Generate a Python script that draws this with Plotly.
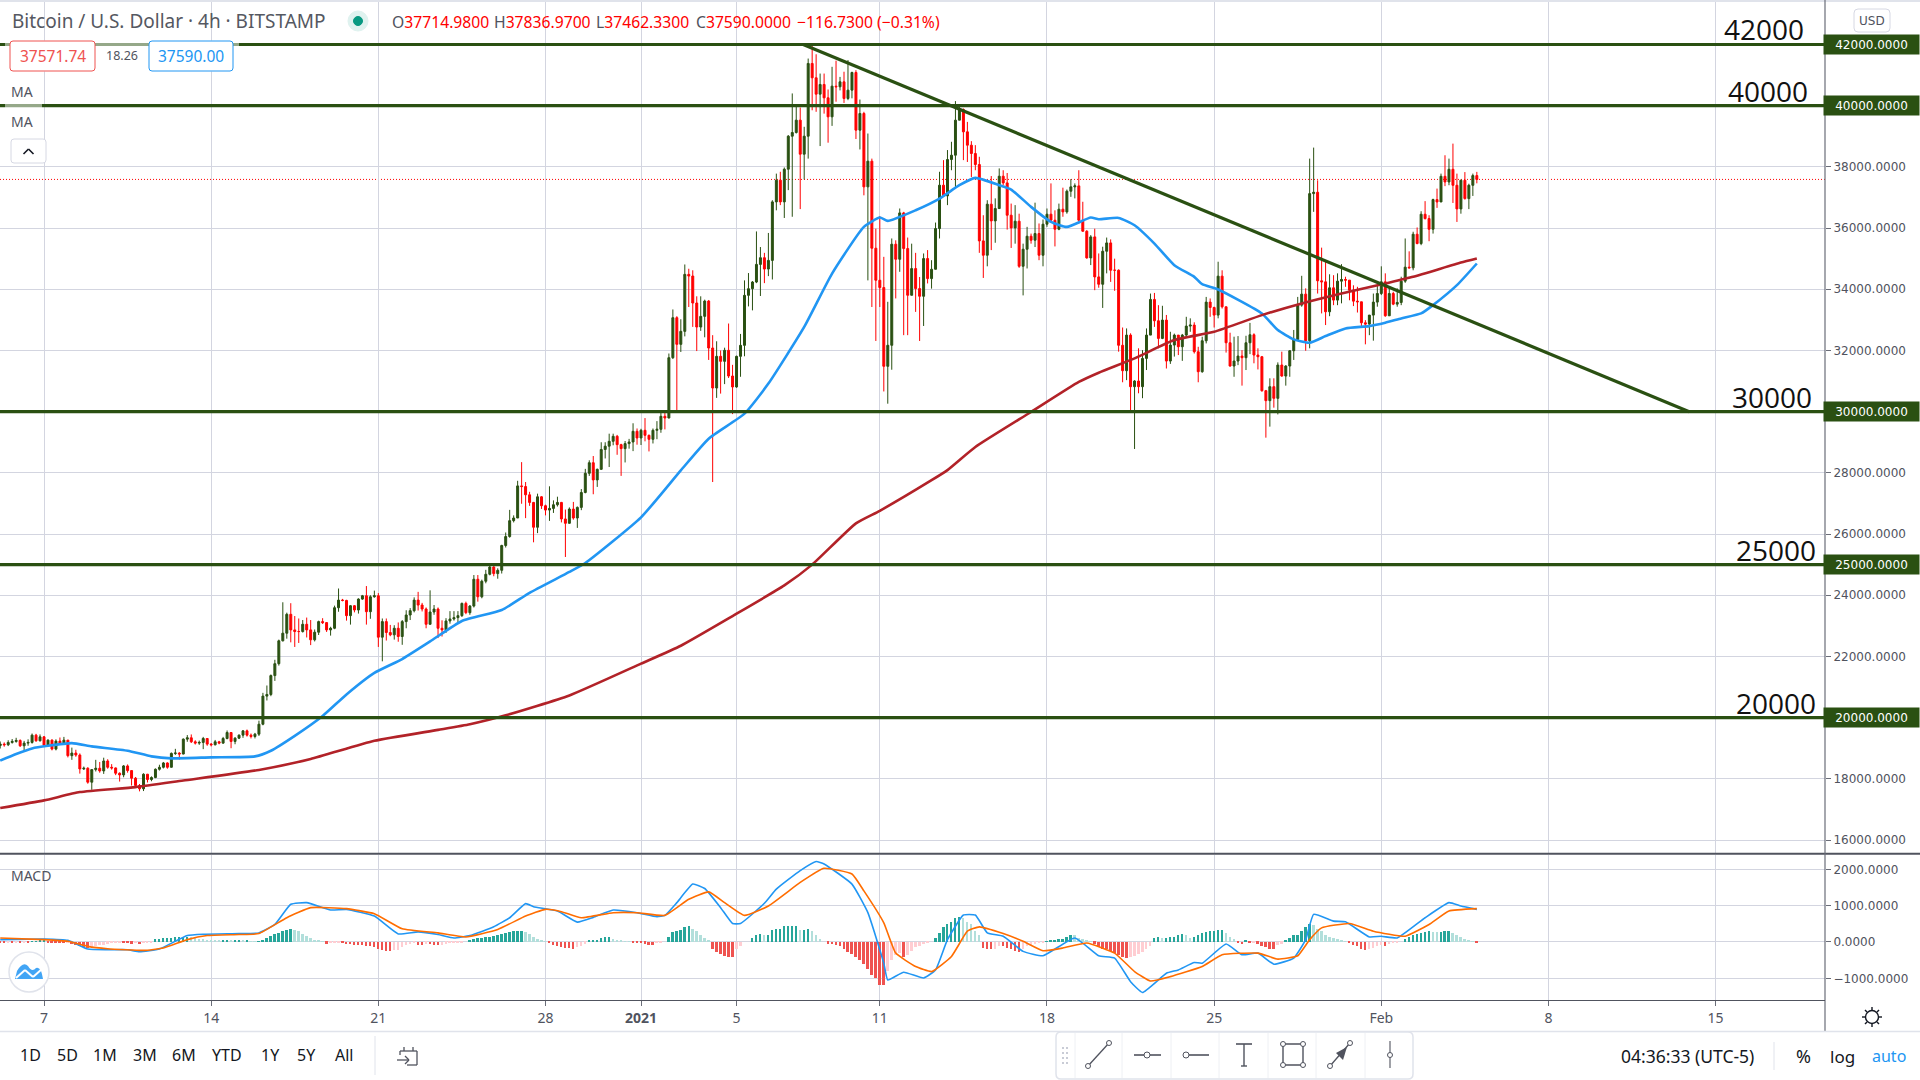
import plotly.graph_objects as go
from datetime import datetime, timedelta

W, H = 1920, 1080
START = datetime(2020, 12, 7)

first_open = 19090
closes = [
19134,19113,19189,19221,19253,19080,19167,19189,19427,19243,19372,
19102,19264,18972,19232,19167,19264,18756,18842,18777,18323,18345,17890,18301,18345,18258,18583,18377,18355,18182,18128,
18420,18269,18020,17782,17674,18150,17977,18042,18312,18377,18518,18377,18831,18842,18810,19297,19340,19210,19167,19189,
19318,19134,19113,19210,19167,19318,19513,19221,19329,19427,19567,19427,19383,19459,19784,20703,20757,21374,21763,22510,
22759,23376,22867,22813,22813,23051,22867,22543,22792,23138,23105,22867,22921,23592,23841,23830,23333,23657,23517,23874,
23982,23462,23949,23982,22629,23138,22781,22705,22921,22651,23138,23354,23495,23841,23679,23549,23051,23452,23549,22921,
22867,23159,23224,23268,23333,23733,23430,23646,24523,23949,24458,24685,24923,24707,24815,25626,25919,26438,26524,27574,
27552,27282,27033,26222,27217,26925,26784,26838,26957,27033,26492,26351,26816,26524,26871,27358,27986,28331,27769,28115,
28764,28872,29031,29194,28922,28791,28955,29009,29358,29140,29390,29227,29096,29390,29423,29848,29793,31764,33071,32200,
32624,34487,34432,33550,32766,33114,33615,32080,30773,31808,31644,32004,31165,30806,31808,32167,33801,34018,34236,34813,
35031,34661,34944,36856,37565,36856,37924,39003,39123,39527,38415,39003,41380,40911,40377,40693,40257,39636,40638,40617,
40780,40235,40508,41085,39200,39745,37347,38186,35341,34295,34055,31482,32169,35472,34981,36496,35330,33804,34676,34022,
33771,35003,34349,34654,35984,37401,37052,38240,38382,39527,39875,39145,38709,38437,38077,35581,35112,36780,36235,36638,
37695,37477,36420,36006,36224,34752,35308,35733,35603,35821,35112,36126,36453,36257,35962,36616,36529,37205,37347,37379,
36257,35897,35025,35712,34404,34164,35243,35515,34622,34622,32169,31338,32502,30816,31001,30816,31741,32502,33667,32970,
32394,32992,31654,32176,32502,32122,32502,32796,32829,31958,31306,32317,33580,33405,33155,34428,33427,32252,31491,31654,
31817,31763,32252,32513,31850,31795,30685,30359,30816,30435,31523,31164,31491,31991,32361,33482,33841,32317,37126,37170,
34276,34243,33264,34047,33645,34265,34319,34298,33971,33612,33590,32905,32861,33155,33580,33862,34243,33133,33862,33514,
33569,34265,34722,34700,35799,35494,36452,36310,35962,36931,36854,37692,37507,37921,37398,36626,37562,36963,37398,37715,37590]
highs = [
19220,19190,19260,19300,19340,19290,19240,19290,19480,19470,19450,
19400,19290,19290,19290,19350,19370,19270,19020,18950,18830,18400,18380,18310,18620,18550,18690,18640,18480,18370,18210,
18450,18470,18280,18060,17830,18180,18160,18080,18340,18460,18550,18540,18860,18980,18870,19320,19430,19450,19260,19250,
19370,19330,19170,19270,19240,19370,19580,19530,19360,19450,19590,19610,19480,19500,19900,20810,21050,21410,21890,22550,
23770,23430,23740,23320,23240,23190,23270,23190,22880,23170,23250,23120,22970,23660,24220,23880,23850,23680,23680,23900,
24010,24300,24000,24150,24070,23240,23240,23030,23020,23110,23190,23510,23580,23930,24110,23750,23600,24160,23680,23600,
23180,23250,23480,23480,23480,23760,23790,23680,24660,24660,24510,24830,24960,24950,24880,25650,26050,26790,26610,27740,
28350,27700,27380,27050,27320,27240,26960,27560,27100,27220,27050,26800,26870,27050,26900,27470,28130,28410,28550,28140,
29000,29000,29280,29280,29240,28950,29040,29110,29620,29450,29440,29790,29250,29450,29690,30040,30050,31900,33340,33120,
33020,34810,34670,34620,33770,33770,33660,33650,32500,32300,32000,32090,32880,31530,31830,32540,34290,34530,34270,35890,
35380,35190,35840,36910,37780,37840,37980,39040,40400,39960,39940,39310,41540,41960,41680,41050,41050,40530,41270,41470,
40940,41110,41490,41110,41160,40200,39800,39090,38270,35980,36390,35060,33590,35660,35600,36640,36530,35690,35490,35190,
34400,35170,35280,34950,36180,37840,38220,38550,38820,40150,39980,39910,39470,38840,38710,38330,36420,36910,37700,36970,
37950,37890,37800,36800,36750,36470,35490,36040,35820,36830,36150,36280,36640,37460,36580,36800,37320,37260,37600,37460,
37890,36860,35930,35770,35980,35170,35390,35690,35630,35000,34650,32750,32720,32560,31030,32070,32010,32720,33860,33880,
33480,33460,33160,32610,32550,32450,32540,33100,33050,32920,32120,32450,33750,33700,33430,34900,34620,33430,32580,32450,
32470,32010,32480,32900,32560,32070,31820,30710,31090,31090,31610,31960,31520,32010,32670,33750,34440,34030,38270,38630,
37560,35360,34900,34490,34460,34520,34820,34410,34300,34130,34080,33590,32990,33160,33860,34130,34750,34520,34080,33920,
34030,34410,35660,35240,35880,36020,36550,36880,36420,36960,37290,37780,38380,38270,38760,37780,37580,37830,37450,37780,37837]
lows = [
18990,19050,19070,19150,19180,19040,18890,19080,19150,19210,19220,
19060,19080,18930,18930,19130,19150,18700,18620,18720,18170,18290,17840,17640,18240,18200,18160,18330,18300,18120,17910,
18050,18200,17780,17700,17590,17600,17880,17920,18020,18270,18340,18330,18370,18780,18630,18800,19210,19170,19120,19110,
18970,19080,19060,19090,19130,19140,19290,19000,19130,19300,19340,19380,19320,19320,19400,19750,20560,20700,21200,21700,
22490,22580,22460,22310,22440,22780,22620,22370,22490,22700,23060,22800,22680,22890,23460,23800,23170,23040,23440,23400,
23850,23040,23230,23920,22310,21840,22520,22660,22550,22480,22380,22920,23190,23440,23500,23470,22920,23060,23360,22600,
22650,22770,23070,23170,23110,23290,23380,23360,23600,23790,23900,24390,24650,24620,24540,24710,25560,25880,26380,26780,
26990,26520,26920,25730,26030,26820,26610,26430,26690,26900,26380,25250,26340,26470,26200,26780,27330,27900,27300,27540,
28100,28470,28190,28900,28590,27900,28340,28790,28710,28920,28910,29030,28700,28960,29100,29310,29420,29780,31720,30040,
31950,32460,33420,32770,31980,32640,32430,31690,27700,30450,30590,30900,31100,29920,30780,31140,31810,33440,33310,34200,
33780,34200,34430,34320,36580,36750,36330,37240,36370,39090,36620,37590,38270,39850,39800,38680,39740,38790,39340,40130,
40500,40090,40180,40240,38910,38570,37070,34290,33420,32310,33420,30660,30260,31370,33700,34570,32500,32500,33800,33260,
32310,32800,34190,34020,34650,35660,37020,36750,37890,37290,39530,38220,38160,37670,37890,35190,34370,34750,35280,35520,
36690,37400,35950,35350,35490,34700,33800,34680,35490,35380,34950,34750,36040,36200,35400,35930,36370,36470,37020,36970,
36150,35880,35000,34790,33970,34050,33390,34520,34240,33950,31960,30960,31030,30050,28780,30600,30440,31360,32500,32770,
32070,32370,31410,31560,31800,31850,31660,32450,32610,31900,30960,31270,32230,33100,32750,33050,33370,31930,31470,31140,
31520,30850,31360,31880,31580,31380,30650,29150,29510,30130,29910,31140,30850,31140,31690,32610,33430,31990,32070,36530,
33860,33210,32830,33120,33480,33480,33540,34080,33640,33450,33240,32770,32200,32500,32320,33430,33810,33100,33130,33480,
33430,33480,34210,34680,34620,35470,35440,36280,35570,35820,36660,36850,37370,37400,36820,36200,36470,36930,36620,37050,37462]

ma_fast_k = [-11,-7,-3,1,7,12,21,27,32,42,53,57,63,70,76,83,90,97,105,115,122,132,136,150,160,167,176,182,191,198,206,210,212,219,225,230,234,240,243,248,253,257,263,265,270,274,279,284,289,291,295,306,310,314,318,322,327,333,337,341,346,349,355,360]
ma_fast_v = [18593,18810,18994,19080,19167,19059,18918,18734,18669,18702,18734,18918,19405,20054,20757,21461,21915,22489,23159,23517,24079,24761,25053,26546,28082,29117,29935,30916,32769,34513,36039,36344,36235,36584,36965,37401,37641,37401,37259,36693,36202,36039,36344,36289,36332,36093,35494,34787,34406,34167,33993,33210,32666,32361,32252,32470,32720,32796,32905,33046,33210,33482,34134,34842]
ma_slow_k = [-11,0,9,23,35,54,67,83,99,107,116,132,150,160,173,186,193,204,210,223,227,234,248,260,265,274,284,294,306,316,326,337,344,356,360]
ma_slow_v = [17046,17295,17566,17728,17944,18290,18648,19243,19600,19784,20076,20725,21764,22350,23320,24320,25000,26350,26760,27760,28090,28845,29989,30970,31273,31741,32339,32611,33155,33536,33862,34189,34406,34874,35005]

macd_k = [-11,0,6,11,16,21,24,29,36,40,49,54,58,62,66,72,76,83,89,94,99,103,107,113,117,121,123,129,134,138,143,149,154,156,159,163,166,170,173,175,181,184,190,194,196,203,207,211,212,216,221,224,227,231,234,237,241,246,251,259,265,269,273,276,282,285,289,291,297,301,305,309,314,317,319,324,327,333,336,340,347,353,356,360]
macd_v = [65,83,46,-194,-213,-213,-269,-194,176,213,232,250,482,1037,1083,880,898,713,222,278,204,111,176,417,667,1056,972,852,546,676,880,806,695,732,1083,1593,1472,945,509,509,1065,1454,1963,2213,2148,1593,806,-583,-1046,-833,-991,-769,65,741,741,250,157,-259,-380,111,-380,-444,-1093,-1389,-861,-769,-565,-583,-56,-352,-306,-611,-444,65,759,574,556,139,157,111,667,1083,991,898]
signal_k = [-11,0,6,11,16,25,30,36,41,49,54,61,67,76,83,90,99,106,114,121,126,130,135,143,149,156,162,167,171,176,182,190,196,203,206,211,214,219,223,228,232,235,241,246,251,256,262,269,274,278,283,291,296,305,310,315,318,321,328,334,342,348,353,360]
signal_v = [111,65,19,-120,-185,-232,-167,65,176,204,232,667,945,917,778,361,250,139,343,713,898,833,667,806,806,732,1176,1380,1083,732,991,1639,2028,1870,1407,528,-306,-676,-815,-398,296,417,232,19,-241,-167,-28,-306,-815,-1074,-954,-676,-352,-306,-472,-380,65,389,509,296,157,482,852,917]

hist_runs = [
(-11,[-40,-40,-30,-30,-20,-20,-10,-10,10,20,30,30]),(1,[-10,-20,-20,-30,-30]),(6,[-20,-60,-90,-110,-130,-160]),
(12,[-130,-110,-90,-70,-50,-40,-30]),(19,[-20,-30,-40,-50,-20,-60,-40,-20,-10]),(28,[70,80,100,110,120,130,130,140,150]),
(37,[130,110,90,70,60,50,40,30]),(45,[40,50,40,40,50,30,30,20,10,20]),(55,[60,120,170,220,260,300,340,370]),
(63,[340,290,230,170,110,60,30,20]),(71,[-50,-30,-10,-5,-40,-60,-60,-70,-80,-90,-100,-110,-130]),(84,[-200,-230,-240,-240,-230,-210]),
(90,[-130,-90,-60,-40]),(94,[-70,-70,-50,-60,-90]),(99,[-90,-70,-50,-40,-30,-20,-10]),
(107,[60,80,100,120,140,150,170,190,210,240,270,290,300,310]),(121,[270,220,150,80,50,20]),(127,[-40,-70,-100,-130,-160,-170]),
(133,[-180,-150,-100,-50]),(137,[30,50,60,100,130,130]),(143,[90,60,30,20,5]),(148,[-20,-30,-30,-50,-70,-70,-40,-30]),
(157,[130,280,300,320,410,450]),(163,[370,300,180,120,50]),(168,[-200,-280,-320,-380,-400,-420]),(174,[-200,-120]),
(178,[100,200,230,200,200,330,370,370,430,450,450]),(189,[450,340,340,350,300,200,80]),
(197,[-50,-60,-80,-120,-200,-280,-340,-400,-500,-600,-750,-900,-1000,-1180]),(211,[-1180,-800,-500,-350,-300,-400,-350,-250,-150,-100,-60,-40]),
(224,[100,250,400,500,550,650,700,650,550]),(233,[500,300,200]),(236,[-170,-190,-190,-180,-100,-120,-160,-200,-250,-280,-200,-120,-80,-50]),
(250,[-20,-10,5]),(253,[40,40,70,80,130,190,180,100]),(261,[70,30,10]),(264,[-50,-150,-200,-200,-250,-300,-350,-400]),
(272,[-450,-420,-380,-330,-280,-200,-100]),(279,[100,130,100,100,130,150,180,220,200]),(288,[120,150,200,250,270,300,300,330]),
(296,[330,250,150,80]),(300,[-30,-60,30,-30,-20,-50]),(306,[-100,-130,-180,-190,-80,-50]),(312,[30,100,180,200,300,400,500]),
(319,[460,350,300,200,150,100,70,40]),(327,[20,-30]),(329,[-80,-120,-180,-220,-200,-160]),(335,[-100,-80,-100,-60,-40,-10]),
(342,[80,150,200,220,250,280,290,280,270,280,290,300]),(354,[260,200,130,70,30,10]),(360,[-15]),
]

levels = [42000, 40000, 30000, 25000, 20000]
level_text_x = [1764, 1768, 1772, 1776, 1776]
price_ticks = list(range(16000, 42001, 2000))
macd_ticks = [2000, 1000, 0, -1000]
trend_x = ["2021-01-07 19:00", "2021-02-13 21:30"]
trend_y = [42000, 30000]
date_ticks = ["2020-12-07","2020-12-14","2020-12-21","2020-12-28","2021-01-01","2021-01-05","2021-01-11","2021-01-18","2021-01-25","2021-02-01","2021-02-08","2021-02-15"]
date_labels = ["7","14","21","28","<b>2021</b>","5","11","18","25","Feb","8","15"]
range_labels = ["1D","5D","1M","3M","6M","YTD","1Y","5Y","All"]
range_label_x = [30,67,105,145,184,227,270,306,344]

GREEN = "#2a5012"
TEXT = "#50535e"
GRID = "#d3d5e0"
SANS = "Noto Sans"

def t(k):
    return START + timedelta(hours=4 * k)

n = min(len(closes), len(highs), len(lows))
times = [t(i - 11) for i in range(n)]
opens = [first_open] + closes[:n - 1]

hist = {}
for s, vals in hist_runs:
    for i, v in enumerate(vals):
        hist[s + i] = v
hk = sorted(hist)
hv = [hist[k] for k in hk]
hcol = []
for i, v in enumerate(hv):
    prev = hv[i - 1] if i else v
    if v >= 0:
        hcol.append("#26a69a" if v >= prev else "#b2dfdb")
    else:
        hcol.append("#ef5350" if v <= prev else "#ffcdd2")

fig = go.Figure()
fig.add_trace(go.Candlestick(x=times, open=opens, high=highs[:n], low=lows[:n], close=closes[:n],
    increasing=dict(line=dict(color=GREEN, width=1), fillcolor=GREEN),
    decreasing=dict(line=dict(color="#ff0000", width=1), fillcolor="#ff0000"),
    whiskerwidth=0, hoverinfo="skip", xaxis="x", yaxis="y"))
fig.add_trace(go.Scatter(x=[t(k) for k in ma_fast_k], y=ma_fast_v, mode="lines",
    line=dict(color="#2196f3", width=2.6, shape="spline", smoothing=0.5), hoverinfo="skip", xaxis="x", yaxis="y"))
fig.add_trace(go.Scatter(x=[t(k) for k in ma_slow_k], y=ma_slow_v, mode="lines",
    line=dict(color="#b22228", width=2.6, shape="spline", smoothing=0.5), hoverinfo="skip", xaxis="x", yaxis="y"))
fig.add_trace(go.Scatter(x=trend_x, y=trend_y, mode="lines", line=dict(color=GREEN, width=3.2),
    hoverinfo="skip", xaxis="x", yaxis="y"))
fig.add_trace(go.Bar(x=[t(k) for k in hk], y=hv, marker=dict(color=hcol, line=dict(width=0)),
    width=2 * 3600 * 1000, hoverinfo="skip", xaxis="x2", yaxis="y2"))
fig.add_trace(go.Scatter(x=[t(k) for k in macd_k], y=macd_v, mode="lines",
    line=dict(color="#2196f3", width=1.6, shape="spline", smoothing=0.4), hoverinfo="skip", xaxis="x2", yaxis="y2"))
fig.add_trace(go.Scatter(x=[t(k) for k in signal_k], y=signal_v, mode="lines",
    line=dict(color="#ff6d00", width=1.6, shape="spline", smoothing=0.4), hoverinfo="skip", xaxis="x2", yaxis="y2"))

def px(x): return x / W
def py(y): return 1 - y / H

shapes, ann = [], []

def rect(x0, y0, x1, y1, fill=None, line=None, lw=1, r=0, op=1):
    if r:
        X0, X1, Y0, Y1 = px(x0), px(x1), py(y0), py(y1)
        rx, ry = r / W, r / H
        path = (f"M{X0+rx},{Y0} L{X1-rx},{Y0} Q{X1},{Y0} {X1},{Y0-ry} L{X1},{Y1+ry} Q{X1},{Y1} {X1-rx},{Y1} "
                f"L{X0+rx},{Y1} Q{X0},{Y1} {X0},{Y1+ry} L{X0},{Y0-ry} Q{X0},{Y0} {X0+rx},{Y0} Z")
        shapes.append(dict(type="path", path=path, xref="paper", yref="paper", fillcolor=fill or "rgba(0,0,0,0)",
                           line=dict(color=line or "rgba(0,0,0,0)", width=lw), layer="above", opacity=op))
    else:
        shapes.append(dict(type="rect", xref="paper", yref="paper", x0=px(x0), x1=px(x1), y0=py(y0), y1=py(y1),
                           fillcolor=fill or "rgba(0,0,0,0)", line=dict(color=line or "rgba(0,0,0,0)", width=lw),
                           layer="above", opacity=op))

def seg(x0, y0, x1, y1, color=TEXT, lw=1, dash=None):
    shapes.append(dict(type="line", xref="paper", yref="paper", x0=px(x0), x1=px(x1), y0=py(y0), y1=py(y1),
                       line=dict(color=color, width=lw, dash=dash or "solid"), layer="above"))

def circ(cx, cy, r, fill="#ffffff", line=TEXT, lw=1):
    shapes.append(dict(type="circle", xref="paper", yref="paper", x0=px(cx - r), x1=px(cx + r), y0=py(cy - r), y1=py(cy + r),
                       fillcolor=fill, line=dict(color=line, width=lw), layer="above"))

def label(x, y, text, size=14, color=TEXT, anchor="left", family=SANS):
    ann.append(dict(x=px(x), y=py(y), xref="paper", yref="paper", text=text, showarrow=False, xanchor=anchor,
                    yanchor="middle", align=anchor, font=dict(size=size, color=color, family=family)))

# price levels and last price
for lv, tx in zip(levels, level_text_x):
    shapes.append(dict(type="line", xref="x domain", yref="y", x0=0, x1=1, y0=lv, y1=lv,
                       line=dict(color=GREEN, width=3.2), layer="above"))
    ann.append(dict(x=px(tx), y=lv, xref="paper", yref="y", yshift=15, text=str(lv), showarrow=False,
                    font=dict(size=28, color="#111111", family="Open Sans"), xanchor="center", yanchor="middle"))
    ann.append(dict(x=1, y=lv, xref="paper", yref="y", text=f"{lv}.0000", showarrow=False, xanchor="right",
                    width=95, height=19, bgcolor=GREEN, borderpad=0, align="center",
                    font=dict(size=12, color="#ffffff", family="DejaVu Sans")))
shapes.append(dict(type="line", xref="x domain", yref="y", x0=0, x1=1, y0=closes[-1], y1=closes[-1],
                   line=dict(color="#ff0000", width=1, dash="1px,2px"), layer="below"))

# frame
seg(0, 1, W, 1, "#e0e3eb", 2)
seg(0, 853.8, W, 853.8, "#50535e", 2)
seg(1825, 0, 1825, 1031, "#6a6d78", 1.2)
seg(0, 1000.5, 1825, 1000.5, "#50535e", 1.2)
seg(0, 1031.5, W, 1031.5, "#e0e3eb", 1.5)

# header
rect(5, 40, 239, 72, fill="rgba(255,255,255,0.5)")
rect(5, 88, 42, 120, fill="rgba(255,255,255,0.5)")
label(10, 21, "Bitcoin / U.S. Dollar · 4h · BITSTAMP", 19, "#555861")
circ(358, 21, 10, fill="#dff2ef", line="#dff2ef")
circ(358, 21, 4.5, fill="#089981", line="#089981")
for x, letter, val in [(390, "O", "37714.9800"), (492, "H", "37836.9700"), (594, "L", "37462.3300"), (694, "C", "37590.0000")]:
    label(x, 22, f"<span style='color:#50535e'>{letter}</span>{val}", 15.7, "#ff0000")
label(795, 22, "−116.7300 (−0.31%)", 15.7, "#ff0000")
rect(10, 41, 95, 71, fill="#ffffff", line="#ef5350", lw=1, r=3)
label(52.5, 56, "37571.74", 15.5, "#ef5350", "center")
label(122, 56, "18.26", 12.5, TEXT, "center")
rect(149, 41, 233, 71, fill="#ffffff", line="#2196f3", lw=1, r=3)
label(191, 56, "37590.00", 15.5, "#2196f3", "center")
label(8.5, 92, "MA", 14, TEXT)
label(8.5, 122, "MA", 14, TEXT)
rect(11, 139, 46, 163, fill="#ffffff", line="#d6d8e3", lw=1, r=3)
seg(23.5, 154, 28.5, 149, "#131722", 1.6)
seg(28.5, 149, 33.5, 154, "#131722", 1.6)
rect(1854, 9, 1890, 32, fill="#ffffff", line="#d6d8e3", lw=1, r=4)
label(1872, 20.5, "USD", 12, TEXT, "center", "DejaVu Sans")
label(9, 875, "MACD", 14, TEXT)

# logo
circ(29, 972, 20, fill="#ffffff", line="#e0e3eb", lw=1.5)
shapes.append(dict(type="path", xref="paper", yref="paper", layer="above", fillcolor="#42a5f5", line=dict(width=0),
    path=(f"M{px(15)},{py(979)} L{px(17)},{py(971)} Q{px(23)},{py(961)} {px(28)},{py(966)} "
          f"Q{px(32)},{py(973)} {px(36)},{py(968)} Q{px(41)},{py(966)} {px(43)},{py(979)} Z")))
seg(16, 978, 25, 970, "#ffffff", 2)
seg(25, 970, 33, 977, "#ffffff", 2)
seg(33, 977, 42, 969, "#ffffff", 2)

# gear
circ(1872, 1017, 6.5, fill="#ffffff", line="#131722", lw=1.4)
for a, b, c, d in [(1872,1007,1872,1010),(1872,1024,1872,1027),(1862,1017,1865,1017),(1879,1017,1882,1017),
                   (1865,1010,1867,1012),(1877,1022,1879,1024),(1865,1024,1867,1022),(1877,1012,1879,1010)]:
    seg(a, b, c, d, "#131722", 1.4)

# bottom left
for x, s in zip(range_label_x, range_labels):
    label(x, 1055, s, 16, "#131722", "center")
seg(375, 1036, 375, 1075, "#e0e3eb", 1)
seg(400, 1051, 417, 1051, TEXT, 1.3)
seg(400, 1051, 400, 1055, TEXT, 1.3)
seg(417, 1051, 417, 1065, TEXT, 1.3)
seg(407, 1065, 417, 1065, TEXT, 1.3)
seg(404, 1047, 404, 1051, TEXT, 1.3)
seg(413, 1047, 413, 1051, TEXT, 1.3)
seg(397, 1060, 409, 1060, TEXT, 1.3)
seg(405, 1056, 409, 1060, TEXT, 1.3)
seg(405, 1064, 409, 1060, TEXT, 1.3)

# bottom centre drawing bar
rect(1056, 1032, 1413, 1079, fill="#ffffff", line="#e0e3eb", lw=1.5, r=5)
for x in [1075, 1122, 1171, 1219, 1268, 1316, 1365]:
    seg(x, 1033, x, 1078, "#eef0f4", 1)
for x in [1062, 1066]:
    for y in [1048, 1053, 1058, 1063]:
        seg(x, y, x + 2, y, "#c9ccd6", 2)
ICON = "#50535e"
seg(1088, 1066, 1109, 1043, ICON, 1.3); circ(1088, 1066, 2.5, line=ICON); circ(1109, 1043, 2.5, line=ICON)
seg(1134, 1055, 1161, 1055, ICON, 1.6); circ(1147, 1055, 3, line=ICON)
seg(1186, 1055, 1209, 1055, ICON, 1.6); circ(1186, 1055, 3, line=ICON)
seg(1244, 1044, 1244, 1066, ICON, 1.4); seg(1236, 1044, 1252, 1044, ICON, 1.6); seg(1241, 1066, 1247, 1066, ICON, 1.4)
rect(1283, 1044, 1303, 1065, line=ICON, lw=1.4)
for cx in (1283, 1303):
    for cy in (1044, 1065):
        circ(cx, cy, 2.5, line=ICON)
seg(1330, 1066, 1350, 1043, ICON, 1.3); circ(1330, 1066, 2.5, line=ICON); circ(1350, 1043, 2.5, line=ICON)
shapes.append(dict(type="path", xref="paper", yref="paper", layer="above", fillcolor=ICON, line=dict(width=0),
    path=f"M{px(1347)},{py(1047)} L{px(1336)},{py(1053)} L{px(1343)},{py(1060)} Z"))
seg(1390, 1041, 1390, 1068, ICON, 1.1); circ(1390, 1055, 2.5, line=ICON)

# bottom right
label(1687, 1056, "04:36:33 (UTC-5)", 17.5, "#131722", "center")
seg(1774, 1042, 1774, 1070, "#e0e3eb", 1)
label(1803, 1056, "%", 18, "#131722", "center")
label(1842, 1056, "log", 17, "#131722", "center")
label(1889, 1056, "auto", 16, "#2196f3", "center")

x_range = ["2020-12-05 03:46", "2021-02-19 13:55"]
xcommon = dict(range=x_range, type="date", domain=[0, 1825 / W], tickmode="array", tickvals=date_ticks, showgrid=True,
               gridcolor=GRID, gridwidth=1, zeroline=False, rangeslider=dict(visible=False), fixedrange=True)
ycommon = dict(side="right", showgrid=True, gridcolor=GRID, gridwidth=1, zeroline=False, tickmode="array",
               tickformat=".4f", ticks="outside", ticklen=5, tickcolor="#6a6d78", fixedrange=True,
               tickfont=dict(family="DejaVu Sans", size=12, color=TEXT), showline=False)

fig.update_layout(
    width=W, height=H, margin=dict(l=0, r=0, t=0, b=0), paper_bgcolor="#ffffff", plot_bgcolor="#ffffff",
    showlegend=False, shapes=shapes, annotations=ann, bargap=0, hovermode=False,
    font=dict(family=SANS, color=TEXT),
    xaxis=dict(xcommon, anchor="y", showticklabels=False, ticks=""),
    xaxis2=dict(xcommon, anchor="y2", ticktext=date_labels, ticks="outside", ticklen=5, tickcolor="#6a6d78",
                tickfont=dict(size=14, color=TEXT, family=SANS)),
    yaxis=dict(ycommon, domain=[1 - 853.5 / H, 1], range=[15559, 43454], tickvals=price_ticks, anchor="x"),
    yaxis2=dict(ycommon, domain=[1 - 1000 / H, 1 - 855 / H], range=[-1597, 2394], tickvals=macd_ticks, anchor="x2"),
)

fig.write_html("out.html", config={"displayModeBar": False},
               post_script="document.body.style.margin='0';document.body.style.overflow='hidden';")
